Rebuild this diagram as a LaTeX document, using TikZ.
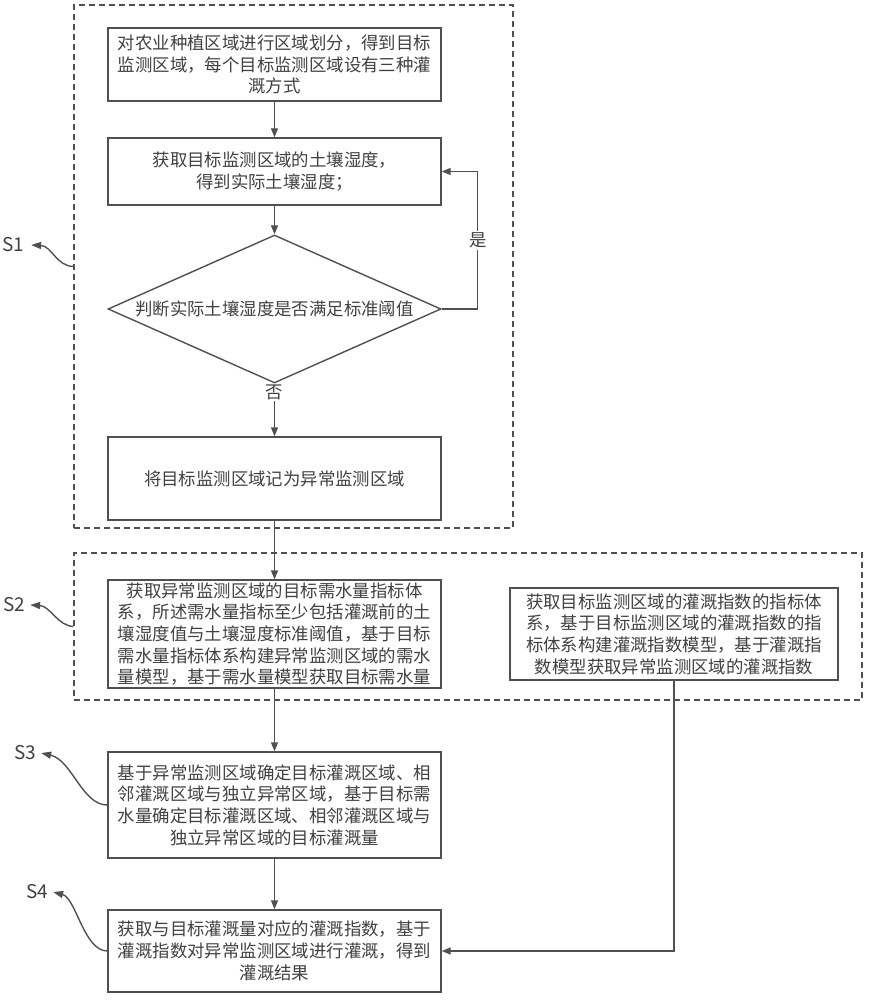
\documentclass[tikz,border=0pt]{standalone}
\usepackage{fontspec}
\setmainfont{Noto Sans CJK SC}
\usetikzlibrary{shapes.geometric,arrows.meta}
\definecolor{ink}{HTML}{505050}
\definecolor{txt}{HTML}{404040}
\begin{document}
\begin{tikzpicture}[x=1pt,y=-1pt,
  every node/.style={text=txt,font=\fontsize{17.4}{21.7}\selectfont},
  stepbox/.style={draw=ink,line width=1.4pt,minimum width=333pt,inner sep=2pt,align=center},
  groupbox/.style={draw=ink,line width=1.2pt,dash pattern=on 6pt off 4pt,inner sep=0pt},
  arr/.style={draw=ink,line width=1.4pt,-{Triangle[length=9pt,width=7pt]}},
  plain/.style={draw=ink,line width=1.4pt},
  slabel/.style={font=\fontsize{19}{22}\selectfont,inner sep=1pt},
  curv/.style={draw=ink,line width=1.4pt,-{Triangle[length=10pt,width=7pt]}}]
\useasboundingbox (0,0) rectangle (870,1000);
\node[groupbox,minimum width=439pt,minimum height=523pt] (g1) at (293.5,266.5) {};
\node[groupbox,minimum width=788pt,minimum height=147pt] (g2) at (468,626.5) {};
\node[stepbox,minimum height=73pt] (b1) at (274.5,64.5) {对农业种植区域进行区域划分，得到目标\\监测区域，每个目标监测区域设有三种灌\\溉方式};
\node[stepbox,minimum height=67pt] (b2) at (274.5,171.5) {获取目标监测区域的土壤湿度，\\得到实际土壤湿度；};
\node[draw=ink,line width=1.4pt,shape=diamond,aspect=2.25,inner sep=0pt,minimum width=333pt,minimum height=148pt] (d) at (274.5,309) {判断实际土壤湿度是否满足标准阈值};
\node[stepbox,minimum height=83pt] (b3) at (274.5,478.5) {将目标监测区域记为异常监测区域};
\node[stepbox,minimum height=108pt] (b4) at (274.5,634) {获取异常监测区域的目标需水量指标体\\系，所述需水量指标至少包括灌溉前的土\\壤湿度值与土壤湿度标准阈值，基于目标\\需水量指标体系构建异常监测区域的需水\\量模型，基于需水量模型获取目标需水量};
\node[stepbox,minimum width=328pt,minimum height=92pt] (b5) at (674,634) {获取目标监测区域的灌溉指数的指标体\\系，基于目标监测区域的灌溉指数的指\\标体系构建灌溉指数模型，基于灌溉指\\数模型获取异常监测区域的灌溉指数};
\node[stepbox,minimum height=106pt] (b6) at (274.5,805) {基于异常监测区域确定目标灌溉区域、相\\邻灌溉区域与独立异常区域，基于目标需\\水量确定目标灌溉区域、相邻灌溉区域与\\独立异常区域的目标灌溉量};
\node[stepbox,minimum height=82pt] (b7) at (274.5,951) {获取与目标灌溉量对应的灌溉指数，基于\\灌溉指数对异常监测区域进行灌溉，得到\\灌溉结果};
\draw[arr] (b1) -- (b2);
\draw[arr] (b2) -- (d);
\draw[arr] (d.east) -- ++(36,0) |- (b2.east) node[pos=0.25,fill=white,inner sep=2pt] {是};
\draw[arr] (d.south) -- (b3.north) node[pos=0.17,fill=white,inner sep=1pt] {否};
\draw[arr] (b3) -- (b4);
\draw[arr] (b4) -- (b6);
\draw[arr] (b6) -- (b7);
\draw[arr] (b5.south) |- (b7.east);
\node[slabel] (s1) at (13,245) {S1};
\node[slabel] (s2) at (14,605) {S2};
\node[slabel] (s3) at (25,753) {S3};
\node[slabel] (s4) at (37,892) {S4};
\draw[curv] (g1.west) .. controls (56,266) and (52,246) .. ([xshift=6pt]s1.east);
\draw[curv] (g2.west) .. controls (58,626) and (50,606) .. ([xshift=4pt]s2.east);
\draw[curv] (b6.west) .. controls (82,805) and (72,760) .. ([xshift=4pt]s3.east);
\draw[curv] (b7.west) .. controls (84,951) and (76,898) .. ([xshift=4pt]s4.east);
\end{tikzpicture}
\end{document}
